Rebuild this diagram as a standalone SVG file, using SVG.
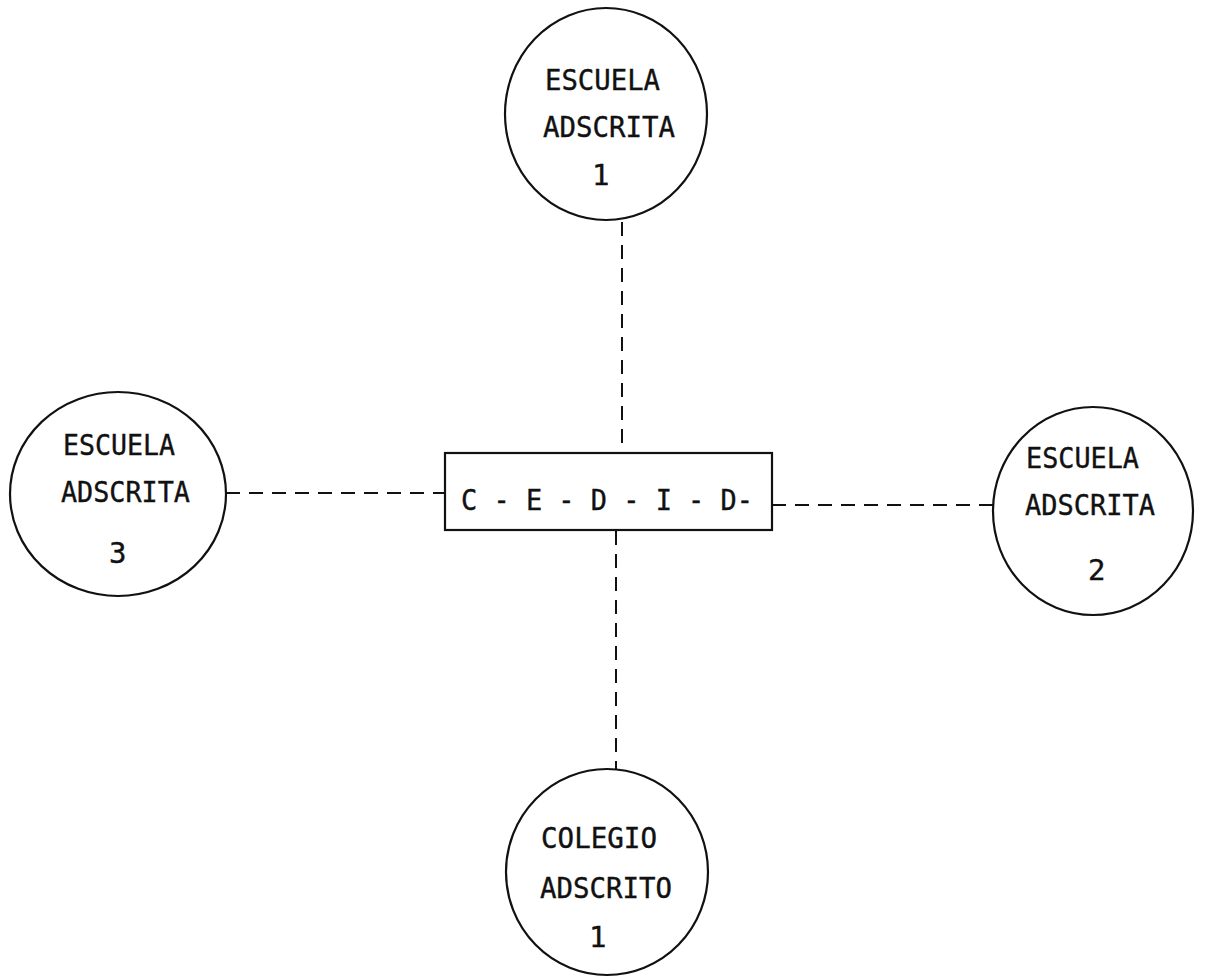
<svg xmlns="http://www.w3.org/2000/svg" width="1209" height="978" viewBox="0 0 1209 978">
<style>
.node{fill:none;stroke:#111;stroke-width:2.2}
.t{font-family:"DejaVu Sans Mono","Liberation Mono",monospace;font-size:29px;fill:#111;stroke:#111;stroke-width:0.4}
.c{stroke:#111;stroke-width:2;stroke-dasharray:14 9;fill:none}
</style>
<rect width="1209" height="978" fill="#fff"/>
<g id="connectors">
<line class="c" x1="622" y1="222" x2="622" y2="453"/>
<line class="c" x1="616" y1="531" x2="616" y2="770"/>
<line class="c" x1="226" y1="493" x2="445" y2="493"/>
<line class="c" x1="772" y1="505" x2="993" y2="505"/>
</g>
<g id="escuela1">
<ellipse class="node" cx="606" cy="114" rx="101" ry="106"/>
<text class="t" x="545" y="90" textLength="115" lengthAdjust="spacingAndGlyphs">ESCUELA</text>
<text class="t" x="543" y="137" textLength="132" lengthAdjust="spacingAndGlyphs">ADSCRITA</text>
<text class="t" x="592" y="185">1</text>
</g>
<g id="escuela3">
<ellipse class="node" cx="118" cy="494" rx="108" ry="102"/>
<text class="t" x="63" y="455" textLength="112" lengthAdjust="spacingAndGlyphs">ESCUELA</text>
<text class="t" x="61" y="502" textLength="129" lengthAdjust="spacingAndGlyphs">ADSCRITA</text>
<text class="t" x="109" y="563">3</text>
</g>
<g id="escuela2">
<ellipse class="node" cx="1093" cy="511" rx="100" ry="104"/>
<text class="t" x="1026" y="468" textLength="113" lengthAdjust="spacingAndGlyphs">ESCUELA</text>
<text class="t" x="1025" y="515" textLength="130" lengthAdjust="spacingAndGlyphs">ADSCRITA</text>
<text class="t" x="1088" y="580">2</text>
</g>
<g id="colegio1">
<ellipse class="node" cx="607" cy="872" rx="101" ry="103"/>
<text class="t" x="541" y="848" textLength="116" lengthAdjust="spacingAndGlyphs">COLEGIO</text>
<text class="t" x="540" y="898" textLength="132" lengthAdjust="spacingAndGlyphs">ADSCRITO</text>
<text class="t" x="589" y="947">1</text>
</g>
<g id="cedid">
<rect class="node" x="445" y="453" width="327" height="77"/>
<text class="t" x="461" y="510" textLength="292" lengthAdjust="spacingAndGlyphs">C - E - D - I - D-</text>
</g>
</svg>
